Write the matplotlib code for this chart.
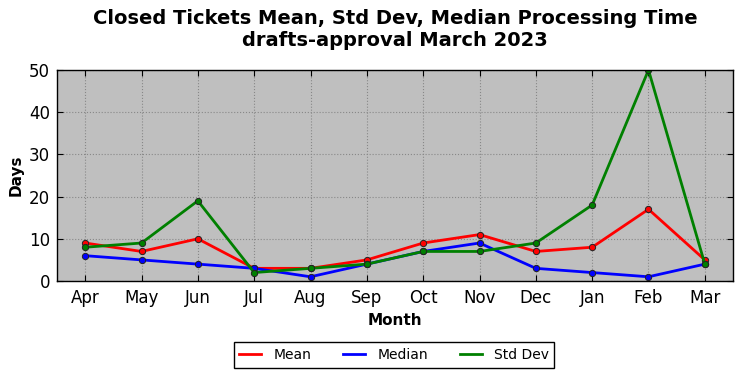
import matplotlib
matplotlib.use("Agg")
import matplotlib.pyplot as plt
from matplotlib.lines import Line2D

months = ["Apr", "May", "Jun", "Jul", "Aug", "Sep", "Oct", "Nov", "Dec", "Jan", "Feb", "Mar"]
mean_vals = [9, 7, 10, 3, 3, 5, 9, 11, 7, 8, 17, 5]
median_vals = [6, 5, 4, 3, 1, 4, 7, 9, 3, 2, 1, 4]
std_vals = [8, 9, 19, 2, 3, 4, 7, 7, 9, 18, 50, 4]

fig = plt.figure(figsize=(7.42, 3.78), dpi=100)
ax = fig.add_axes([57/742, 1-281/378, (733-57)/742, (281-70)/378])
ax.set_facecolor("#bfbfbf")
x = list(range(len(months)))
series = [(mean_vals, "red", "Mean"), (median_vals, "blue", "Median"), (std_vals, "green", "Std Dev")]
for vals, c, lab in series:
    ax.plot(x, vals, color=c, lw=2, marker="o", ms=4.5,
            markerfacecolor=c, markeredgecolor="#222222", markeredgewidth=0.7)
ax.set_xlim(-0.5, 11.5)
ax.set_ylim(0, 50)
ax.set_xticks(x)
ax.set_xticklabels(months)
ax.set_yticks([0, 10, 20, 30, 40, 50])
ax.tick_params(direction="in", labelsize=12, length=4, top=True, right=True, pad=6)
ax.tick_params(axis="y", pad=5)
ax.grid(True, linestyle=":", color="#888888", linewidth=0.8)
for s in ax.spines.values():
    s.set_linewidth(1.0)
ax.set_xlabel("Month", fontsize=11, fontweight="bold", labelpad=4)
ax.set_ylabel("Days", fontsize=11, fontweight="bold", labelpad=4)
ax.set_title("Closed Tickets Mean, Std Dev, Median Processing Time\ndrafts-approval March 2023",
             fontsize=14, fontweight="bold", pad=17)
handles = [Line2D([], [], color=c, lw=2) for _, c, _ in series]
labels = [lab for _, _, lab in series]
leg = fig.legend(handles, labels, loc="center", bbox_to_anchor=(394/742, 1-355/378), ncol=3, fontsize=10,
                 fancybox=False, edgecolor="black", framealpha=1, columnspacing=2.3,
                 handlelength=1.6, handletextpad=0.85)
leg.get_frame().set_linewidth(1.0)
fig.savefig("out.png", dpi=100)
